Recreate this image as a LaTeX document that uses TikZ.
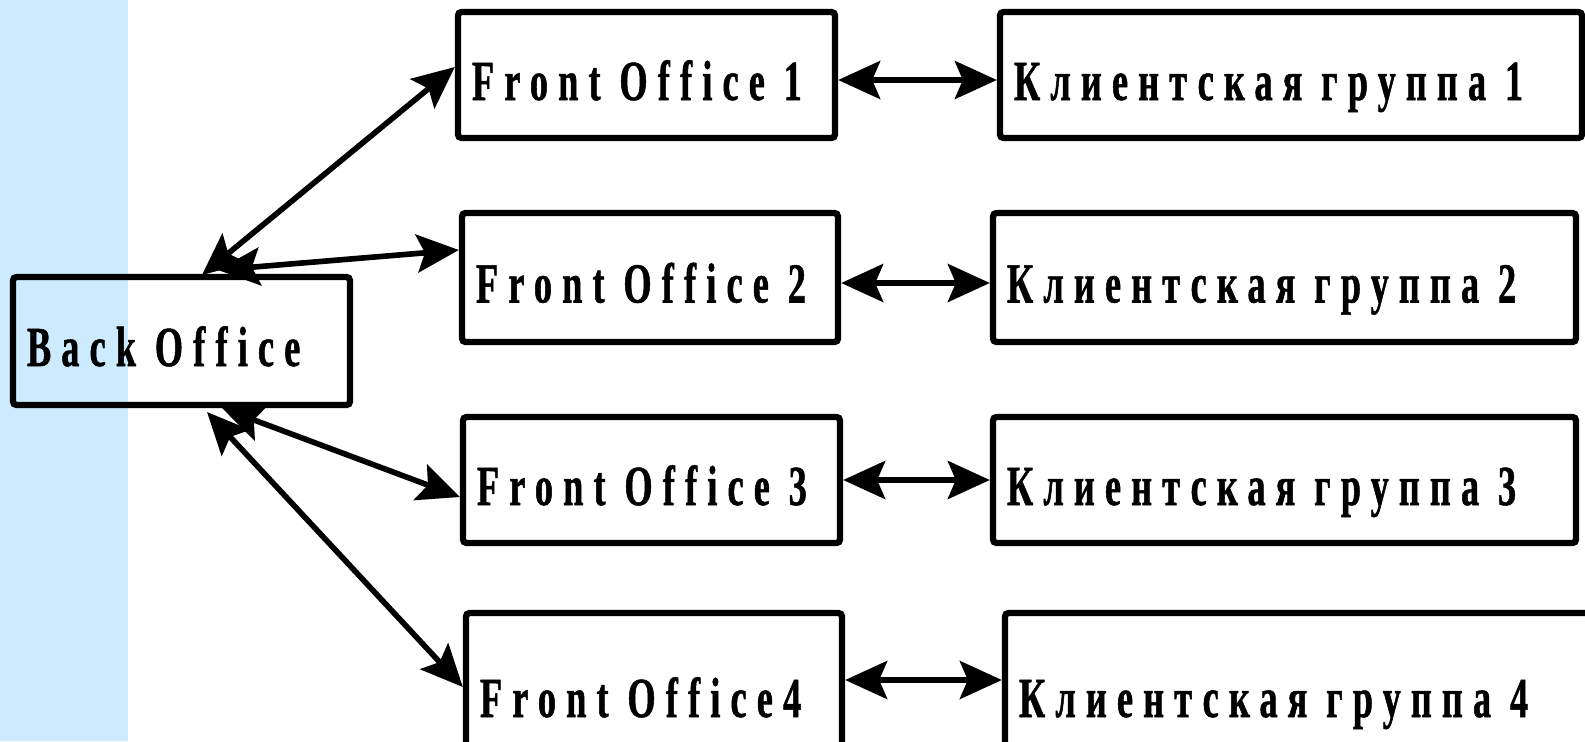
\documentclass[tikz,border=0pt]{standalone}
\usepackage{fontspec}
\setmainfont{Liberation Serif}[FakeStretch=0.64, LetterSpace=18, WordSpace=2.2,
    Ligatures=NoCommon, BoldFeatures={FakeBold=0.9}]
\usepackage{tikz}
\usetikzlibrary{arrows.meta}
\definecolor{stripblue}{HTML}{CCEBFF}

\begin{document}
\begin{tikzpicture}[
    box/.style={draw, line width=1.8pt, rounded corners=1pt, align=left,
        inner xsep=0.14cm, text height=0.50cm, text depth=0pt,
        font=\fontsize{16.1}{18}\selectfont\bfseries},
    link/.style={line width=1.6pt, >={Stealth[length=0.42cm, width=0.38cm, inset=0.08cm]}, <->}
]
        \def\gap{\kern0.18em}
        \useasboundingbox (0,0) rectangle (15.85,7.41);
        \fill[stripblue] (0,0) rectangle (1.28,7.41);
        % back office
        \node[box, text width=3.09cm, minimum height=1.28cm] (back) at (1.815,4.00) {Back O\gap ffice};
        % front offices
        \node[box, text width=3.49cm, minimum height=1.26cm] (fo1) at (6.465,6.66) {Front O\gap ffice 1};
        \node[box, text width=3.48cm, minimum height=1.29cm] (fo2) at (6.50,4.635) {Front O\gap ffice 2};
        \node[box, text width=3.49cm, minimum height=1.26cm] (fo3) at (6.515,2.61) {Front O\gap ffice 3};
        \node[box, text width=3.48cm, minimum height=1.58cm] (fo4) at (6.54,0.49) {Front O\gap ffice4};
        % client groups
        \node[box, text width=5.54cm, minimum height=1.26cm] (kg1) at (12.91,6.66) {Клиентская группа 1};
        \node[box, text width=5.55cm, minimum height=1.29cm] (kg2) at (12.845,4.635) {Клиентская группа 2};
        \node[box, text width=5.55cm, minimum height=1.26cm] (kg3) at (12.845,2.61) {Клиентская группа 3};
        \node[box, text width=5.67cm, minimum height=1.58cm] (kg4) at (13.025,0.49) {Клиентская группа 4};
        % arrow ends at the back office
        \coordinate (b1) at (2.02,4.66);
        \coordinate (b2) at (2.18,4.71);
        \coordinate (b3) at (2.22,3.33);
        \coordinate (b4) at (2.07,3.29);
        \draw[link] (b1) -- ([yshift=0.08cm]fo1.west);
        \draw[link] (b2) -- ([yshift=0.275cm]fo2.west);
        \draw[link] (b3) -- ([yshift=-0.17cm]fo3.west);
        \draw[link] (b4) -- ([yshift=0.05cm]fo4.west);
        \foreach \i/\dy in {1/-0.05, 2/-0.055, 3/0, 4/0.12}{
            \draw[link] ([yshift=\dy cm]fo\i.east) -- ([yshift=\dy cm]kg\i.west);
        }
\end{tikzpicture}
\end{document}
